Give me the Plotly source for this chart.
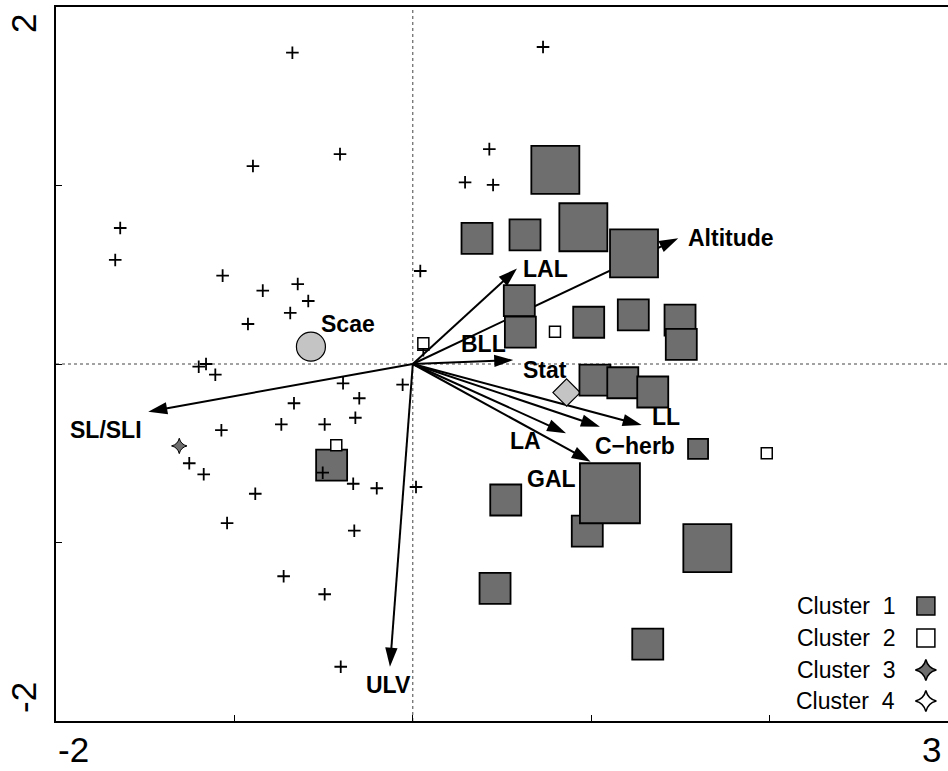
import plotly.graph_objects as go

# ---------------- data (ordination scores) ----------------
# unclassified sites (plus signs)
plus_x = [-0.675, 0.730, -0.408, -0.896, -1.640, -1.668, -1.066, -0.841, -0.645, -0.586,
          -0.687, -0.924, 0.042, 0.429, 0.293, 0.450, -1.200, -1.159, -1.107, -0.391,
          -0.057, -0.300, -0.666, -0.737, -0.494, -0.322, -1.073, -1.253, -1.172, -0.505,
          -0.334, -0.202, 0.018, -0.883, -1.041, -0.328, -0.724, -0.494, -0.404, 0.059]
plus_y = [1.744, 1.776, 1.176, 1.109, 0.762, 0.583, 0.495, 0.411, 0.448, 0.353,
          0.286, 0.224, 0.521, 1.204, 1.018, 1.003, -0.015, 0.000, -0.060, -0.108,
          -0.116, -0.192, -0.220, -0.338, -0.338, -0.301, -0.371, -0.556, -0.618, -0.609,
          -0.671, -0.696, -0.689, -0.727, -0.891, -0.934, -1.189, -1.290, -1.696, 0.078]

# Cluster 1 sites with abundance class (symbol size class 1..4)
c1_x = [0.799, 0.360, 0.629, 0.956, 1.240, 0.597, 0.603, 0.986, 1.236, 1.498,
        1.505, 1.021, 1.177, 1.345, 0.978, 1.105, 0.521, 1.651, 0.461, 1.317,
        1.599, -0.455]
c1_y = [1.087, 0.704, 0.723, 0.766, 0.620, 0.355, 0.179, 0.234, 0.275, 0.246,
        0.110, -0.090, -0.105, -0.157, -0.936, -0.724, -0.762, -1.032, -1.257, -1.569,
        -0.476, -0.566]
c1_class = [3, 2, 2, 3, 3, 2, 2, 2, 2, 2,
            2, 2, 2, 2, 2, 4, 2, 3, 2, 2,
            1, 2]

# Cluster 2, 3
c2_x = [0.059, 0.797, -0.429, 1.984]
c2_y = [0.116, 0.181, -0.455, -0.500]
c3_x = [-1.309]
c3_y = [-0.459]

# species / centroids
scae_x, scae_y = [-0.571], [0.097]
stat_x, stat_y = [0.862], [-0.160]

# environmental vectors
env_names = ["Altitude", "LAL", "Stat", "LA", "C\u2212herb", "LL", "GAL", "SL/SLI", "ULV"]
env_x = [1.488, 0.584, 0.563, 0.859, 1.049, 1.283, 0.997, -1.483, -0.128]
env_y = [0.704, 0.535, 0.022, -0.388, -0.351, -0.342, -0.547, -0.267, -1.696]

legend_labels = ["Cluster  1", "Cluster  2", "Cluster  3", "Cluster  4"]

# ---------------- styling ----------------
FONT = "Liberation Sans, Arial, sans-serif"
DARK = "#6e6e6e"
LIGHT = "#c4c4c4"
LBL = 23
size_map = {1: 20, 2: 31, 3: 48, 4: 60}
# label offsets (pixels) relative to vector tips
label_off = {
    "Altitude": (8, 0, "left"),
    "LAL": (29, 0, "center"),
    "Stat": (32, -10, "center"),
    "LA": (-41, -8, "center"),
    "C\u2212herb": (35, -19, "center"),
    "LL": (24, 8, "center"),
    "GAL": (-39, -17, "center"),
    "SL/SLI": (-42, -18, "center"),
    "ULV": (-1, -18, "center"),
}

fig = go.Figure()

# dotted zero lines
fig.add_shape(type="line", x0=-2, x1=3, y0=0, y1=0, layer="below",
              line=dict(color="#444", width=1, dash="dot"))
fig.add_shape(type="line", x0=0, x1=0, y0=-2, y1=2, layer="below",
              line=dict(color="#444", width=1, dash="dot"))

# arrows
for n, ex, ey in zip(env_names, env_x, env_y):
    fig.add_trace(go.Scatter(
        x=[0, ex], y=[0, ey], mode="lines+markers", hoverinfo="skip",
        line=dict(color="black", width=2),
        marker=dict(symbol="arrow", size=[0, 20], angleref="previous", color="black",
                    opacity=1, line=dict(width=0)),
    ))
    dx, dy, anc = label_off[n]
    fig.add_annotation(x=ex, y=ey, text=n, showarrow=False, xshift=dx, yshift=dy,
                       xanchor=anc, yanchor="middle",
                       font=dict(family=FONT, size=LBL, color="black", weight="bold"))

fig.add_annotation(x=0.394, y=0.112, text="BLL", showarrow=False,
                   font=dict(family=FONT, size=LBL, color="black", weight="bold"))

# species circle and diamond
fig.add_trace(go.Scatter(x=scae_x, y=scae_y, mode="markers", hoverinfo="skip",
                         marker=dict(symbol="circle", size=29, color=LIGHT, opacity=1,
                                     line=dict(color="black", width=1.2))))
fig.add_annotation(x=scae_x[0], y=scae_y[0], text="Scae", showarrow=False,
                   xshift=37, yshift=23,
                   font=dict(family=FONT, size=LBL, color="black", weight="bold"))
fig.add_trace(go.Scatter(x=stat_x, y=stat_y, mode="markers", hoverinfo="skip",
                         marker=dict(symbol="diamond", size=21, color=LIGHT, opacity=1,
                                     line=dict(color="black", width=1.2))))

# cluster 1 squares
fig.add_trace(go.Scatter(x=c1_x, y=c1_y, mode="markers", hoverinfo="skip",
                         marker=dict(symbol="square", size=[size_map[c] for c in c1_class],
                                     color=DARK, opacity=1,
                                     line=dict(color="black", width=1.8))))

# plus signs
fig.add_trace(go.Scatter(x=plus_x, y=plus_y, mode="markers", hoverinfo="skip",
                         marker=dict(symbol="cross-thin", size=9, opacity=1,
                                     line=dict(color="black", width=1.8))))

# cluster 2 and 3
fig.add_trace(go.Scatter(x=c2_x, y=c2_y, mode="markers", hoverinfo="skip",
                         marker=dict(symbol="square", size=11, color="white", opacity=1,
                                     line=dict(color="black", width=1.5))))
fig.add_trace(go.Scatter(x=c3_x, y=c3_y, mode="markers", hoverinfo="skip",
                         marker=dict(symbol="star-diamond", size=11, color=DARK, opacity=1,
                                     line=dict(color="black", width=1))))

# custom legend (text left, symbol right)
leg_y = [-1.356, -1.535, -1.714, -1.888]
leg_sym = [("square", DARK, 18), ("square", "white", 18),
           ("star-diamond", DARK, 15), ("star-diamond", "white", 15)]
for lab, ly, (sym, col, sz) in zip(legend_labels, leg_y, leg_sym):
    fig.add_trace(go.Scatter(x=[2.876], y=[ly], mode="markers", hoverinfo="skip",
                             marker=dict(symbol=sym, size=sz, color=col, opacity=1,
                                         line=dict(color="black", width=1.5))))
    fig.add_annotation(x=2.712, y=ly, text=lab, showarrow=False, xanchor="right",
                       font=dict(family=FONT, size=23, color="black"))

# axis end labels
big = dict(family=FONT, size=35, color="black")
fig.add_annotation(x=-2, y=-2, text="-2", showarrow=False, xshift=17, yshift=-28, font=big)
fig.add_annotation(x=3, y=-2, text="3", showarrow=False, xshift=-17, yshift=-28, font=big)
fig.add_annotation(x=-2, y=2, text="2", showarrow=False, xshift=-33, yshift=-17,
                   textangle=-90, font=big)
fig.add_annotation(x=-2, y=-2, text="-2", showarrow=False, xshift=-33, yshift=23,
                   textangle=-90, font=big)

fig.update_layout(
    width=948, height=771,
    margin=dict(l=56, r=0, t=7, b=50),
    paper_bgcolor="white", plot_bgcolor="white",
    showlegend=False,
    xaxis=dict(range=[-2, 3], showgrid=False, zeroline=False, showline=True,
               linecolor="black", linewidth=2, mirror=True,
               tickvals=[-1, 0, 1, 2], ticks="inside", ticklen=6, tickcolor="black",
               showticklabels=False),
    yaxis=dict(range=[-2, 2], showgrid=False, zeroline=False, showline=True,
               linecolor="black", linewidth=2,
               tickvals=[-1, 0, 1], ticks="inside", ticklen=6, tickcolor="black",
               showticklabels=False),
)

fig.write_html("out.html", config={"displayModeBar": False},
               post_script="document.body.style.margin='0';document.body.style.overflow='hidden';")
